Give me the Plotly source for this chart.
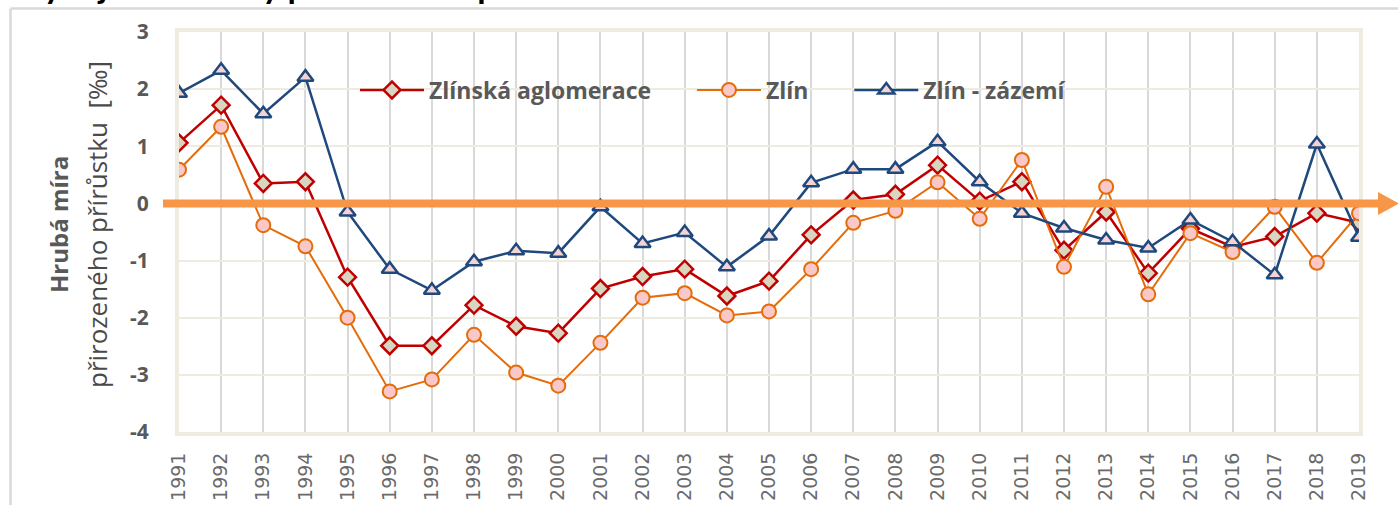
import plotly.graph_objects as go

years = list(range(1991, 2020))
aglomerace = [1.06, 1.72, 0.35, 0.38, -1.29, -2.49, -2.49, -1.78, -2.15, -2.27,
              -1.49, -1.28, -1.15, -1.62, -1.36, -0.55, 0.06, 0.16, 0.67, 0.04,
              0.38, -0.82, -0.15, -1.22, -0.44, -0.76, -0.58, -0.17, -0.34]
zlin = [0.59, 1.34, -0.38, -0.75, -2.00, -3.29, -3.08, -2.30, -2.96, -3.19,
        -2.44, -1.65, -1.57, -1.96, -1.89, -1.15, -0.34, -0.13, 0.37, -0.27,
        0.76, -1.11, 0.29, -1.59, -0.52, -0.85, -0.06, -1.04, -0.17]
zazemi = [1.93, 2.33, 1.57, 2.21, -0.15, -1.15, -1.52, -1.02, -0.83, -0.87,
          -0.06, -0.70, -0.51, -1.11, -0.57, 0.36, 0.60, 0.60, 1.08, 0.38,
          -0.17, -0.43, -0.64, -0.78, -0.29, -0.67, -1.25, 1.04, -0.59]
series_names = ["Zlínská aglomerace", "Zlín", "Zlín - zázemí"]
y_ticks = [3, 2, 1, 0, -1, -2, -3, -4]

W, H = 1398, 505
L, R, T, B = 179, 39, 32, 73
pw, ph = W - L - R, H - T - B
ymin, ymax = -4, 3
PAD = "\u00a0" * 6  # spacing after legend entries

def px_x(p):
    return (p - L) / pw

def px_y(p):
    return (H - B - p) / ph

fig = go.Figure()
fig.add_trace(go.Scatter(
    x=years, y=aglomerace, name=series_names[0] + PAD, mode="lines+markers",
    line=dict(color="#C00000", width=2.5),
    marker=dict(symbol="diamond", size=13, color="#DAD5C0",
                line=dict(color="#C00000", width=2.5))))
fig.add_trace(go.Scatter(
    x=years, y=zlin, name=series_names[1] + PAD, mode="lines+markers",
    line=dict(color="#E46C0A", width=2),
    marker=dict(symbol="circle", size=14, color="#FAC8C8",
                line=dict(color="#E46C0A", width=2))))
fig.add_trace(go.Scatter(
    x=years, y=zazemi, name=series_names[2], mode="lines+markers",
    line=dict(color="#1F497D", width=2.5),
    marker=dict(symbol="triangle-up", size=14, color="#F5D3D3",
                line=dict(color="#1F497D", width=2.5))))

zero_p = (0 - ymin) / (ymax - ymin)
shapes = [
    # chart border (top and left)
    dict(type="line", xref="paper", yref="paper", x0=px_x(10.5), x1=px_x(1500),
         y0=px_y(8.5), y1=px_y(8.5), line=dict(color="#D9D9D9", width=2.5)),
    dict(type="line", xref="paper", yref="paper", x0=px_x(10.5), x1=px_x(10.5),
         y0=px_y(8.5), y1=px_y(600), line=dict(color="#D9D9D9", width=2.5)),
    # orange zero arrow
    dict(type="line", xref="paper", yref="paper", x0=px_x(163), x1=px_x(1380),
         y0=zero_p, y1=zero_p, line=dict(color="#F79646", width=8), layer="above"),
    dict(type="path", xref="paper", yref="paper",
         path="M {a},{b} L {c},{d} L {a},{e} Z".format(
             a=px_x(1378), b=zero_p + 11.5 / ph, c=px_x(1399), d=zero_p,
             e=zero_p - 11.5 / ph),
         fillcolor="#F79646", line=dict(color="#F79646", width=0), layer="above"),
]

annotations = [
    dict(text="<b>Hrubá míra</b>", xref="paper", yref="paper",
         x=px_x(58), y=px_y(225), textangle=-90, showarrow=False,
         xanchor="center", yanchor="middle",
         font=dict(family="Open Sans", size=24, color="#595959")),
    dict(text="přirozeného přírůstku  [‰]", xref="paper", yref="paper",
         x=px_x(97), y=px_y(225), textangle=-90, showarrow=False,
         xanchor="center", yanchor="middle",
         font=dict(family="Open Sans", size=26, color="#4a4a4a")),
    dict(text="<b>Vývoj hrubé míry přirozeného přírůstku v letech 1991–2019</b>",
         xref="paper", yref="paper", x=px_x(18), y=px_y(7),
         xanchor="left", yanchor="bottom", showarrow=False,
         font=dict(family="Lato", size=34, color="#000000")),
]

fig.update_layout(
    width=W, height=H,
    margin=dict(l=L, r=R, t=T, b=B, pad=0, autoexpand=False),
    paper_bgcolor="white", plot_bgcolor="white",
    showlegend=True,
    legend=dict(orientation="h", x=px_x(355), y=px_y(90), xanchor="left",
                yanchor="middle", bgcolor="rgba(0,0,0,0)",
                font=dict(family="Open Sans", size=23, color="#595959",
                          weight="bold"),
                itemwidth=64),
    shapes=shapes, annotations=annotations,
)
fig.update_xaxes(
    range=[1991, 2019], tickmode="array", tickvals=years,
    ticktext=[str(y) for y in years], tickangle=-90,
    tickfont=dict(family="DejaVu Sans", size=19, color="#6a6a6a"),
    ticklabelstandoff=9, automargin=False,
    showgrid=True, gridcolor="#D9D9D9", gridwidth=2,
    showline=True, linecolor="#EEECE1", linewidth=4, mirror=True,
    zeroline=False, ticks="")
fig.update_yaxes(
    range=[ymin, ymax], tickmode="array", tickvals=y_ticks,
    ticktext=[str(v) for v in y_ticks],
    tickfont=dict(family="Open Sans", size=21, color="#595959", weight="bold"),
    ticklabelstandoff=22, automargin=False,
    showgrid=True, gridcolor="#EEECE1", gridwidth=2,
    showline=True, linecolor="#EEECE1", linewidth=4, mirror=True,
    zeroline=False, ticks="")

fig.write_html("out.html", config={"displayModeBar": False},
               post_script="document.body.style.margin='0';")
